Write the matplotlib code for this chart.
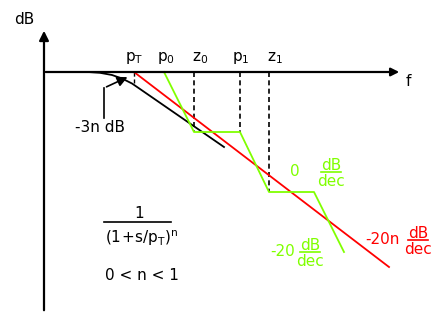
import matplotlib.pyplot as plt

# pixel-like coordinates of the sketch (x right, y down)
red_x = [44, 134, 389]
red_y = [72, 72, 267]

green_x = [164, 194, 240, 269, 314, 344]
green_y = [72, 132, 132, 192, 192, 252]

black_x = [88, 100, 112, 122, 132, 140, 224]
black_y = [72, 72.8, 75, 78.5, 83.5, 89, 147]

dash_x = [194, 240, 269]
dash_bottom = [132, 132, 192]

pole_labels = [r'$\mathregular{p_T}$', r'$\mathregular{p_0}$', r'$\mathregular{z_0}$',
               r'$\mathregular{p_1}$', r'$\mathregular{z_1}$']
pole_x = [134, 166, 200, 241, 275]

FS = 11

fig = plt.figure(figsize=(4.47, 3.29), dpi=100)
ax = fig.add_axes([0, 0, 1, 1])
ax.set_xlim(0, 447)
ax.set_ylim(329, 0)
ax.axis('off')

# axes arrows
ax.annotate('', xy=(44, 28), xytext=(44, 313),
            arrowprops=dict(arrowstyle='-|>', color='black', lw=1.6, mutation_scale=14))
ax.annotate('', xy=(402, 72), xytext=(43, 72),
            arrowprops=dict(arrowstyle='-|>', color='black', lw=1.6, mutation_scale=12))
ax.text(24, 20, 'dB', fontsize=FS, ha='center', va='center')
ax.text(408, 81, 'f', fontsize=FS, ha='center', va='center')

# dashed markers
ax.plot([134, 134], [72, 83], color='black', lw=1, ls=(0, (3, 2)))
for x, yb in zip(dash_x, dash_bottom):
    ax.plot([x, x], [72, yb], color='black', lw=1.2, ls=(0, (3, 2)))

ax.plot(black_x, black_y, color='black', lw=1.3)
ax.plot(red_x, red_y, color='#ff0000', lw=1.3)
ax.plot(green_x, green_y, color='#80ff00', lw=1.3)

for lab, x in zip(pole_labels, pole_x):
    ax.text(x, 58, lab, fontsize=FS, ha='center', va='center')

# -3n dB pointer
ax.plot([104, 104], [118, 88], color='black', lw=1.2)
ax.annotate('', xy=(130, 76), xytext=(104, 88),
            arrowprops=dict(arrowstyle='-|>', color='black', lw=1.2, mutation_scale=15))
ax.text(100, 128, '-3n dB', fontsize=FS, ha='center', va='center')


def frac(x, y, color):
    ax.text(x, y - 8, 'dB', fontsize=FS, ha='center', va='center', color=color)
    ax.plot([x - 10, x + 10], [y - 1, y - 1], color=color, lw=1.2)
    ax.text(x, y + 8, 'dec', fontsize=FS, ha='center', va='center', color=color)


ax.text(295, 171, '0', fontsize=FS, ha='center', va='center', color='#80ff00')
frac(331, 173, '#80ff00')
ax.text(283, 252, '-20', fontsize=FS, ha='center', va='center', color='#80ff00')
frac(310, 253, '#80ff00')
ax.text(382, 240, '-20n', fontsize=FS, ha='center', va='center', color='#ff0000')
frac(418, 241, '#ff0000')

# transfer function
ax.text(139, 214, '1', fontsize=FS, ha='center', va='center')
ax.plot([104, 171], [222, 222], color='black', lw=1.2)
ax.text(142, 238, r'$\mathregular{(1\!+\!s/p_T)^n}$', fontsize=FS, ha='center', va='center')
ax.text(142, 276, '0 < n < 1', fontsize=FS, ha='center', va='center')

fig.savefig('out.png', dpi=100)
